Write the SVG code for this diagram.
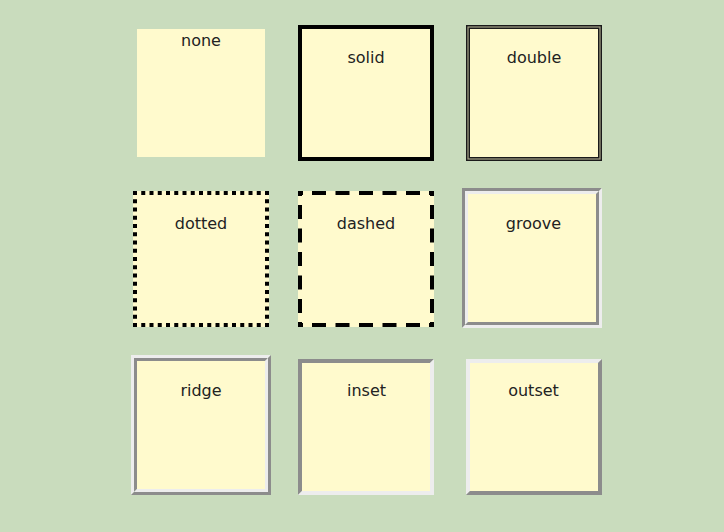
<svg xmlns="http://www.w3.org/2000/svg" width="724" height="532" viewBox="0 0 724 532">
<style>
.bg{fill:#c9dcbd}
.box{fill:#fffacd}
.lbl{font-family:"DejaVu Sans","Verdana",sans-serif;font-size:16px;fill:#222;text-anchor:middle}
.dk{fill:#8c8c8c}
.lt{fill:#ededed}
.dot{stroke:#000;stroke-width:4;stroke-dasharray:4 4.25;fill:none}
.dash{stroke:#000;stroke-width:4;stroke-dasharray:5 9 14 9.5 14 9.5 14 9.5 14 9.5 14 9 5 100;fill:none}
</style>
<rect class="bg" x="0" y="0" width="724" height="532"/>
<g id="connectors"></g>

<g id="none">
<rect class="box" x="137" y="29" width="128" height="128"/>
<text class="lbl" x="201" y="46">none</text>
</g>

<g id="solid">
<rect class="box" x="300" y="27" width="132" height="132" stroke="#000" stroke-width="4"/>
<text class="lbl" x="366" y="63">solid</text>
</g>

<g id="double">
<rect class="box" x="468" y="27" width="132" height="132" stroke="#a8a68a" stroke-width="4"/>
<rect x="466.7" y="25.7" width="134.6" height="134.6" fill="none" stroke="#1a1a1a" stroke-width="1.4"/>
<rect x="469.3" y="28.3" width="129.4" height="129.4" fill="none" stroke="#1a1a1a" stroke-width="1.4"/>
<text class="lbl" x="534" y="63">double</text>
</g>

<g id="dotted">
<rect class="box" x="133" y="191" width="136" height="136"/>
<line class="dot" x1="133" y1="193" x2="269" y2="193"/>
<line class="dot" x1="133" y1="325" x2="269" y2="325"/>
<line class="dot" x1="135" y1="191" x2="135" y2="327"/>
<line class="dot" x1="267" y1="191" x2="267" y2="327"/>
<text class="lbl" x="201" y="229">dotted</text>
</g>

<g id="dashed">
<rect class="box" x="298" y="191" width="136" height="136"/>
<line class="dash" x1="298" y1="193" x2="434" y2="193"/>
<line class="dash" x1="298" y1="325" x2="434" y2="325"/>
<line class="dash" x1="300" y1="191" x2="300" y2="327"/>
<line class="dash" x1="432" y1="191" x2="432" y2="327"/>
<text class="lbl" x="366" y="229">dashed</text>
</g>

<g id="groove">
<rect class="box" x="468" y="194" width="128" height="128"/>
<polygon class="dk" points="462,188 602,188 599,191 465,191 465,325 462,328"/>
<polygon class="lt" points="602,188 602,328 462,328 465,325 599,325 599,191"/>
<polygon class="lt" points="465,191 599,191 596,194 468,194 468,322 465,325"/>
<polygon class="dk" points="599,191 599,325 465,325 468,322 596,322 596,194"/>
<text class="lbl" x="533.5" y="229">groove</text>
</g>

<g id="ridge">
<rect class="box" x="137" y="361" width="128" height="128"/>
<polygon class="lt" points="131,355 271,355 268,358 134,358 134,492 131,495"/>
<polygon class="dk" points="271,355 271,495 131,495 134,492 268,492 268,358"/>
<polygon class="dk" points="134,358 268,358 265,361 137,361 137,489 134,492"/>
<polygon class="lt" points="268,358 268,492 134,492 137,489 265,489 265,361"/>
<text class="lbl" x="201" y="396">ridge</text>
</g>

<g id="inset">
<rect class="box" x="302" y="363" width="128" height="128"/>
<polygon class="dk" points="298,359 434,359 430,363 302,363 302,491 298,495"/>
<polygon class="lt" points="434,359 434,495 298,495 302,491 430,491 430,363"/>
<text class="lbl" x="366.5" y="396">inset</text>
</g>

<g id="outset">
<rect class="box" x="470" y="363" width="128" height="128"/>
<polygon class="lt" points="466,359 602,359 598,363 470,363 470,491 466,495"/>
<polygon class="dk" points="602,359 602,495 466,495 470,491 598,491 598,363"/>
<text class="lbl" x="533.5" y="396">outset</text>
</g>
</svg>
